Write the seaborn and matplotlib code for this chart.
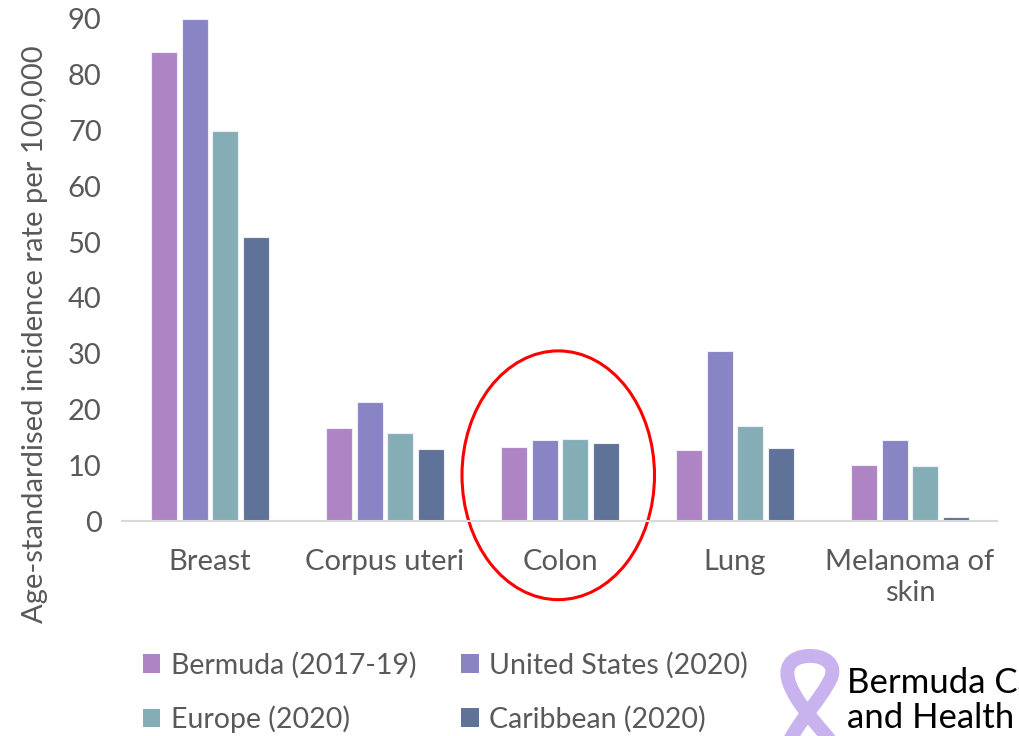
import pandas as pd
import matplotlib.pyplot as plt
import seaborn as sns
from matplotlib.patches import Ellipse, PathPatch, Patch
from matplotlib.path import Path

# data
cancer_sites = ['Breast', 'Corpus uteri', 'Colon', 'Lung', 'Melanoma of\nskin']
regions = ['Bermuda (2017-19)', 'United States (2020)', 'Europe (2020)', 'Caribbean (2020)']
bermuda = [84.0, 16.7, 13.3, 12.7, 10.1]
united_states = [90.0, 21.3, 14.6, 30.4, 14.5]
europe = [69.9, 15.8, 14.7, 17.1, 9.8]
caribbean = [50.9, 12.9, 13.9, 13.1, 0.7]
colors = ['#AE84C4', '#8984C4', '#85ADB6', '#5F7399']

rows = []
for region, vals in zip(regions, [bermuda, united_states, europe, caribbean]):
    for site, v in zip(cancer_sites, vals):
        rows.append({'site': site, 'region': region, 'rate': v})
data = pd.DataFrame(rows)

sns.set_style('white')
plt.rcParams['font.family'] = ['Lato', 'DejaVu Sans']
grey = '#595959'
fs = 21

fig = plt.figure(figsize=(10.19, 7.36), dpi=100)
ax = fig.add_axes([0.1202, 0.2921, 0.8587, 0.6821])

sns.barplot(data=data, x='site', y='rate', hue='region', hue_order=regions,
            order=cancer_sites, palette=colors, saturation=1, width=0.7, gap=0.15,
            edgecolor='#EEEEF4', linewidth=0.8, ax=ax)
ax.get_legend().remove()

ax.set_ylim(0, 90)
ax.set_yticks(range(0, 91, 10))
ax.set_xlim(-0.5, len(cancer_sites) - 0.5)
ax.tick_params(axis='both', length=0, colors=grey, labelsize=fs)
ax.tick_params(axis='x', pad=20)
ax.tick_params(axis='y', pad=15)
for lbl in ax.get_xticklabels():
    lbl.set_linespacing(1.25)
ax.set_xlabel('')
ax.set_ylabel('Age-standardised incidence rate per 100,000', fontsize=21, color=grey)
ax.yaxis.set_label_coords(-0.085, 0.372)
for s in ['top', 'right', 'left']:
    ax.spines[s].set_visible(False)
ax.spines['bottom'].set_color('#D9D9D9')
ax.spines['bottom'].set_linewidth(1.5)

# red circle around Colon
ax.add_patch(Ellipse((1.99, 8.2), 1.10, 44.6, fill=False, edgecolor='#FF0000',
                     linewidth=2.2, clip_on=False))

# legend: matplotlib fills columns first, so reorder to get rows Bermuda/US, Europe/Caribbean
order = [0, 2, 1, 3]
handles = [Patch(facecolor=colors[i], edgecolor='none') for i in order]
labels = [regions[i] for i in order]
fig.legend(handles, labels, loc='upper left', bbox_to_anchor=(0.129, 0.13),
           ncol=2, frameon=False, fontsize=20.5, labelcolor=grey,
           handlelength=0.62, handleheight=0.62, handletextpad=0.38,
           columnspacing=1.55, labelspacing=0.95, borderaxespad=0)

# logo at bottom right (ribbon + text cropped by the edge as in the source)
W, H = 1019, 736
def px(x, y):
    return (x / W, 1 - y / H)

verts = [px(790, 740), px(800, 720), px(820, 700), px(830, 680),
         px(838, 665), px(825, 655), px(808, 656),
         px(790, 657), px(783, 668), px(790, 685),
         px(798, 705), px(815, 722), px(830, 740)]
codes = [Path.MOVETO] + [Path.CURVE4] * 12
fig.patches.append(PathPatch(Path(verts, codes), fill=False, edgecolor='#C9B3EE',
                             linewidth=10, transform=fig.transFigure, capstyle='butt'))
fig.text(847 / W, 1 - 693 / H, 'Bermuda Cancer', fontsize=25, color='black',
         va='baseline', ha='left')
fig.text(847 / W, 1 - 728 / H, 'and Health Centre', fontsize=25, color='black',
         va='baseline', ha='left')

fig.savefig('out.png', dpi=100)
